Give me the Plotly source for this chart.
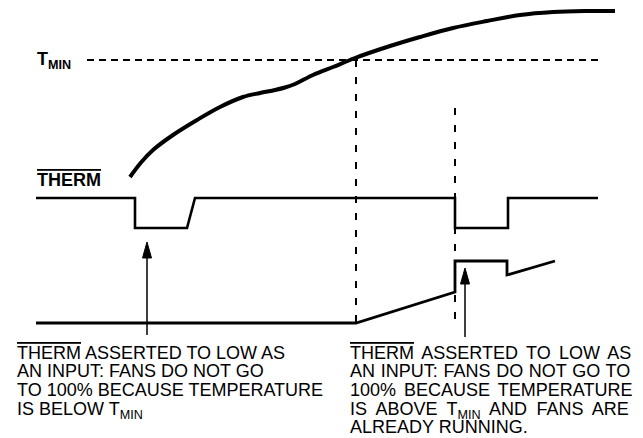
import plotly.graph_objects as go

# ---- data (diagram units: time along x, level along y; y grows downward) ----
temp_t = [130, 141, 153, 173, 197, 220, 243, 260, 275, 285, 295, 313, 333, 355, 387, 420, 453, 487, 520, 553, 585, 615]
temp_y = [177, 162.5, 150, 135, 120, 107, 97, 93, 90, 87.5, 84, 75, 67, 58, 47, 37, 28, 21, 15, 12, 11, 11]

therm_t = [36, 135, 135, 187, 195, 455, 455, 508, 508, 598]
therm_y = [198, 198, 228, 228, 198, 198, 228, 228, 198, 198]

fan_t = [36, 356, 455, 455, 507, 507, 555]
fan_y = [323, 323, 292, 261, 261, 275, 261]

tmin_t = [87, 598]
tmin_y = [60, 60]

vline_t = [356, 455]
vline_top = [60, 108]
vline_bottom = [325, 325]

arrow_t = [147, 465]
arrow_tip = [242, 268]
arrow_tail = [335, 337]

OVER = '<span style="text-decoration:overline">THERM</span>'
label_tmin = "<b>T<sub>MIN</sub></b>"
label_therm = "<b>" + OVER + "</b>"

left_lines = [
    OVER + " ASSERTED TO LOW AS",
    "AN INPUT: FANS DO NOT GO",
    "TO 100% BECAUSE TEMPERATURE",
    "IS BELOW T<sub>MIN</sub>",
]
# right block is justified in the reference: extra word spacing per line (px)
right_lines = [
    OVER + '<span style="word-spacing:3.3px"> ASSERTED TO LOW AS</span>',
    '<span style="word-spacing:0.7px">AN INPUT: FANS DO NOT GO TO</span>',
    '<span style="word-spacing:3px">100% BECAUSE TEMPERATURE</span>',
    '<span style="word-spacing:4.4px">IS ABOVE T</span><sub>MIN</sub><span style="word-spacing:4.4px"> AND FANS ARE</span>',
    "ALREADY RUNNING.",
]

FONT = "Liberation Sans, Arial, Helvetica, sans-serif"
HEAD_LEN = 16
HEAD_W = 9

fig = go.Figure()

# temperature curve
fig.add_trace(go.Scatter(x=temp_t, y=temp_y, mode="lines",
                         line=dict(color="black", width=4, shape="spline", smoothing=1.0)))
# THERM signal
fig.add_trace(go.Scatter(x=therm_t, y=therm_y, mode="lines", line=dict(color="black", width=2.6)))
# fan drive
fig.add_trace(go.Scatter(x=fan_t, y=fan_y, mode="lines", line=dict(color="black", width=2.8)))
# TMIN dashed line
fig.add_trace(go.Scatter(x=tmin_t, y=tmin_y, mode="lines", line=dict(color="black", width=2, dash="7px,5px")))
# vertical dashed markers
for t, a, b in zip(vline_t, vline_top, vline_bottom):
    fig.add_trace(go.Scatter(x=[t, t], y=[a, b], mode="lines", line=dict(color="black", width=2, dash="7px,10px")))
# arrows: shaft + filled head
for t, tip, tail in zip(arrow_t, arrow_tip, arrow_tail):
    fig.add_trace(go.Scatter(x=[t, t], y=[tail, tip + HEAD_LEN - 2], mode="lines", line=dict(color="black", width=1.5)))
    fig.add_trace(go.Scatter(x=[t - HEAD_W / 2, t + HEAD_W / 2, t, t - HEAD_W / 2],
                             y=[tip + HEAD_LEN, tip + HEAD_LEN, tip, tip + HEAD_LEN],
                             mode="lines", fill="toself", fillcolor="black", line=dict(color="black", width=1)))

ann = []
ann.append(dict(x=35, y=60.5, text=label_tmin, xanchor="left", yanchor="middle", showarrow=False,
                font=dict(family=FONT, size=18, color="black")))
ann.append(dict(x=35, y=179.5, text=label_therm, xanchor="left", yanchor="middle", showarrow=False,
                font=dict(family=FONT, size=18, color="black")))
BASE0 = 358
PITCH = 18.6
for i, s in enumerate(left_lines):
    ann.append(dict(x=15, y=BASE0 + i * PITCH - 17.3, text=s, xanchor="left", yanchor="top", showarrow=False,
                    font=dict(family=FONT, size=18, color="black")))
for i, s in enumerate(right_lines):
    ann.append(dict(x=348, y=BASE0 + i * PITCH - 17.3, text=s, xanchor="left", yanchor="top", showarrow=False,
                    font=dict(family=FONT, size=18, color="black")))

fig.update_layout(
    width=643, height=438,
    margin=dict(l=0, r=0, t=0, b=0),
    paper_bgcolor="white", plot_bgcolor="white",
    showlegend=False,
    annotations=ann,
    xaxis=dict(range=[0, 643], visible=False, fixedrange=True),
    yaxis=dict(range=[438, 0], visible=False, fixedrange=True),
)

fig.write_html("out.html", config={"displayModeBar": False},
               post_script="document.body.style.margin='0';document.body.style.overflow='hidden';")
